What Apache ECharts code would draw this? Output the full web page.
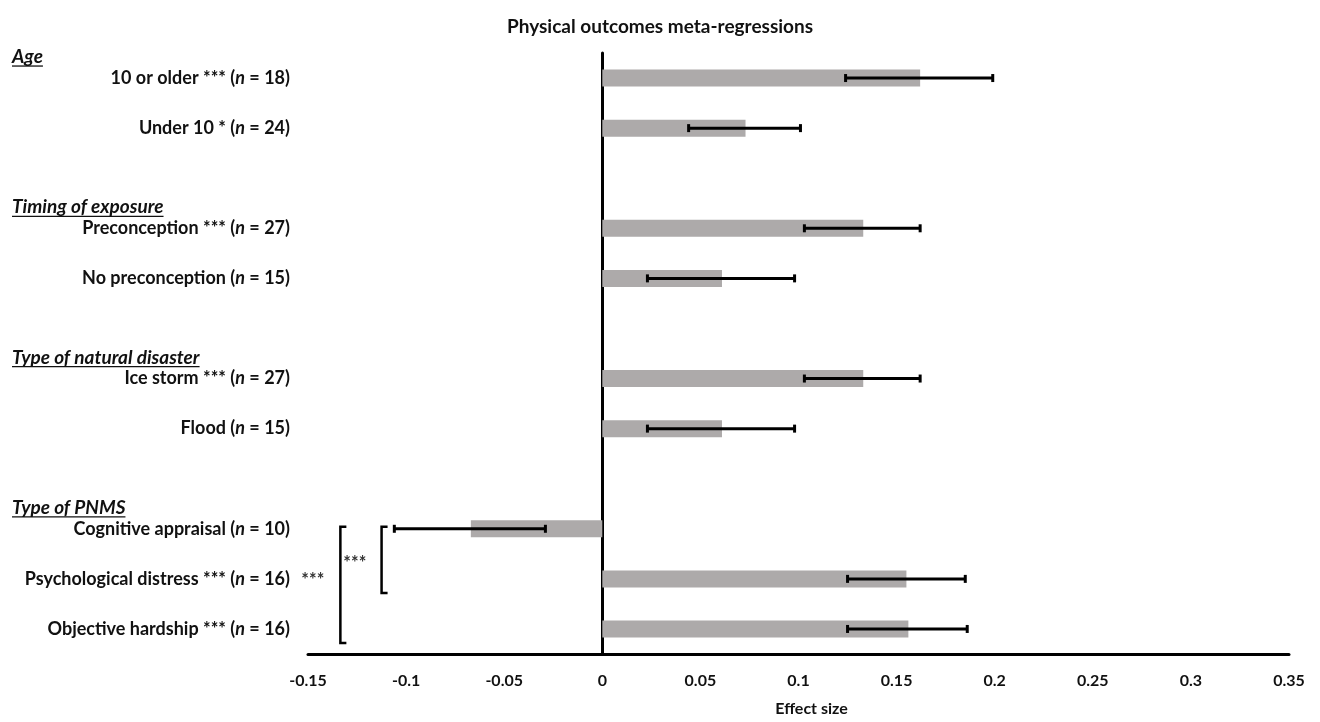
<!DOCTYPE html>
<html>
<head>
<meta charset="utf-8">
<script src="https://cdn.jsdelivr.net/npm/echarts@6/dist/echarts.min.js"></script>
<style>
  html, body { margin: 0; padding: 0; background: #fff; overflow: hidden; }
  #chart { width: 1320px; height: 722px; }
</style>
</head>
<body>
<div id="chart"></div>
<script>
// ---- Data ----
var categories = ['10 or older', 'Under 10', 'gap1', 'Preconception', 'No preconception', 'gap2',
  'Ice storm', 'Flood', 'gap3', 'Cognitive appraisal', 'Psychological distress', 'Objective hardship'];
var labelPrefix = ['10 or older *** (', 'Under 10 * (', '', 'Preconception *** (', 'No preconception (', '',
  'Ice storm *** (', 'Flood (', '', 'Cognitive appraisal (', 'Psychological distress *** (', 'Objective hardship *** ('];
var nValues = [18, 24, null, 27, 15, null, 27, 15, null, 10, 16, 16];
var effectSize = [0.162, 0.073, null, 0.133, 0.061, null, 0.133, 0.061, null, -0.067, 0.155, 0.156];
var ciLow = [0.124, 0.044, null, 0.103, 0.023, null, 0.103, 0.023, null, -0.106, 0.125, 0.125];
var ciHigh = [0.199, 0.101, null, 0.162, 0.098, null, 0.162, 0.098, null, -0.029, 0.185, 0.186];
var groupHeaders = ['Age', 'Timing of exposure', 'Type of natural disaster', 'Type of PNMS'];
var groupHeaderRows = [0, 3, 6, 9];
var xTicks = [-0.15, -0.1, -0.05, 0, 0.05, 0.1, 0.15, 0.2, 0.25, 0.3, 0.35];
// significance brackets: rows joined, x position in effect-size units, label
var bracketFrom = [9, 9];
var bracketTo = [10, 11];
var bracketX = [-0.1125, -0.1335];
var bracketLabels = ['***', '***'];

var FONT = 'Lato';
var chart = echarts.init(document.getElementById('chart'), null, { renderer: 'canvas', width: 1320, height: 722 });

var errData = [];
for (var i = 0; i < categories.length; i++) {
  if (ciLow[i] != null) errData.push([i, ciLow[i], ciHigh[i]]);
}

var option = {
  animation: false,
  backgroundColor: '#fff',
  title: {
    text: 'Physical outcomes meta-regressions',
    left: 'center', top: 12,
    textStyle: { fontFamily: FONT, fontSize: 19, fontWeight: 'bold', color: '#111' }
  },
  grid: { left: 308, right: 31, top: 53, bottom: 61, containLabel: false },
  xAxis: {
    type: 'value', min: -0.15, max: 0.35, interval: 0.05,
    name: 'Effect size', nameLocation: 'middle', nameGap: 47,
    nameTextStyle: { fontFamily: FONT, fontSize: 16, fontWeight: 'bold', color: '#111', padding: [0, 0, 0, 26] },
    axisLine: { show: true, onZero: false, lineStyle: { color: '#000', width: 3 } },
    axisTick: { show: false },
    splitLine: { show: false },
    axisLabel: {
      margin: 19, fontFamily: FONT, fontSize: 16, fontWeight: 'bold', color: '#111',
      formatter: function (v) { return String(parseFloat(v.toFixed(2))); }
    }
  },
  yAxis: [
    {
      type: 'category', data: categories, inverse: true,
      axisLine: { show: true, onZero: true, lineStyle: { color: '#000', width: 3 } },
      axisTick: { show: false }, axisLabel: { show: false }, splitLine: { show: false }
    },
    {
      type: 'category', data: categories, inverse: true, position: 'left',
      axisLine: { show: false, onZero: false }, axisTick: { show: false }, splitLine: { show: false },
      axisLabel: {
        show: true, margin: 18,
        formatter: function (v, idx) {
          if (nValues[idx] == null) return '';
          return '{b|' + labelPrefix[idx] + '}{i|n}{b| = ' + nValues[idx] + ')}';
        },
        rich: {
          b: { fontFamily: FONT, fontSize: 18, fontWeight: 'bold', color: '#111' },
          i: { fontFamily: FONT, fontSize: 18, fontWeight: 'bold', fontStyle: 'italic', color: '#111' }
        }
      }
    }
  ],
  series: [
    {
      type: 'bar', yAxisIndex: 0, data: effectSize, barWidth: 17,
      itemStyle: { color: '#ADAAAA' }, z: 2
    },
    {
      type: 'custom', yAxisIndex: 0, data: errData, z: 5,
      encode: { x: [1, 2], y: 0 },
      renderItem: function (params, api) {
        var cat = api.value(0);
        var p1 = api.coord([api.value(1), cat]);
        var p2 = api.coord([api.value(2), cat]);
        var h = 4;
        var st = { stroke: '#000', lineWidth: 3 };
        return {
          type: 'group', children: [
            { type: 'line', shape: { x1: p1[0], y1: p1[1], x2: p2[0], y2: p2[1] }, style: st },
            { type: 'line', shape: { x1: p1[0], y1: p1[1] - h, x2: p1[0], y2: p1[1] + h }, style: st },
            { type: 'line', shape: { x1: p2[0], y1: p2[1] - h, x2: p2[0], y2: p2[1] + h }, style: st }
          ]
        };
      }
    }
  ]
};
chart.setOption(option);

// ---- Annotations: group headers and significance brackets ----
var measureCtx = document.createElement('canvas').getContext('2d');
var headerFont = 'italic bold 19px ' + FONT;
measureCtx.font = headerFont;
var elements = [];
for (var g = 0; g < groupHeaders.length; g++) {
  var yc = chart.convertToPixel({ yAxisIndex: 0 }, groupHeaderRows[g]) - 21;
  var w = measureCtx.measureText(groupHeaders[g]).width;
  elements.push({
    type: 'text', x: 12, y: yc,
    style: { text: groupHeaders[g], font: headerFont, fill: '#111', verticalAlign: 'middle' }
  });
  elements.push({
    type: 'line', shape: { x1: 12, y1: yc + 9, x2: 12 + w, y2: yc + 9 },
    style: { stroke: '#111', lineWidth: 1.3 }
  });
}
for (var b = 0; b < bracketFrom.length; b++) {
  var bx = chart.convertToPixel({ xAxisIndex: 0 }, bracketX[b]);
  var yTop = chart.convertToPixel({ yAxisIndex: 0 }, bracketFrom[b]) - 2;
  var yBot = chart.convertToPixel({ yAxisIndex: 0 }, bracketTo[b]) + 14;
  var bst = { stroke: '#000', lineWidth: 2.5, fill: null };
  elements.push({
    type: 'polyline',
    shape: { points: [[bx + 6, yTop], [bx, yTop], [bx, yBot], [bx + 6, yBot]] },
    style: bst
  });
}
var outX = chart.convertToPixel({ xAxisIndex: 0 }, bracketX[1]);
var rowMid = chart.convertToPixel({ yAxisIndex: 0 }, 10);
elements.push({
  type: 'text', x: outX + 3, y: rowMid - 16,
  style: { text: bracketLabels[0], font: 'bold 18px ' + FONT, fill: '#333', verticalAlign: 'middle' }
});
elements.push({
  type: 'text', x: outX - 39, y: rowMid + 1,
  style: { text: bracketLabels[1], font: 'bold 18px ' + FONT, fill: '#333', verticalAlign: 'middle' }
});
chart.setOption({ graphic: { elements: elements } });
</script>
</body>
</html>
